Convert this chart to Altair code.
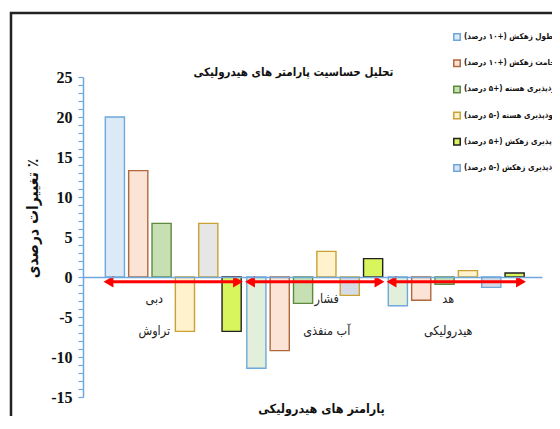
import altair as alt
import pandas as pd

# ---------------- data ----------------
categories = [["دبی", "تراوش"], ["فشار", "آب منفذی"], ["هد", "هیدرولیکی"]]
label_shift = [-19, 12, -8]  # horizontal shift of each category label (px)
series = [
    "طول زهکش (+۱۰ درصد)",
    "ضخامت زهکش (+۱۰ درصد)",
    "نفوذپذیری هسته (+۵ درصد)",
    "نفوذپذیری هسته (-۵ درصد)",
    "نفوذپذیری زهکش (+۵ درصد)",
    "نفوذپذیری زهکش (-۵ درصد)",
]
# values per series, one per category
v_s1 = [20.0, -11.4, -3.6]
v_s2 = [13.3, -9.2, -2.9]
v_s3 = [6.7, -3.3, -0.9]
v_s4 = [-6.8, 3.2, 0.8]
v_s5 = [-6.8, 2.3, 0.5]
v_s6 = [6.7, -2.3, -1.3]
all_values = [v_s1, v_s2, v_s3, v_s4, v_s5, v_s6]
bar_order = [0, 1, 2, 3, 5, 4]  # order of the bars inside each group
arrow_level = [-0.6, -0.6, -0.6]

fill_colors = ["#dce9f7", "#fbe3d5", "#c6e0b4", "#fff2cc", "#d8f55e", "#dae3f3"]
stroke_colors = ["#6fa8dc", "#b0683f", "#5f8a3d", "#c9a233", "#222222", "#6fa8dc"]

title_text = "تحلیل حساسیت پارامتر های هیدرولیکی"
x_title = "پارامتر های هیدرولیکی"
y_title = "\u200f٪ تغییرات درصدی"
y_ticks = list(range(-15, 26))

group_keys = ["|".join(c) for c in categories]

rows = []
for gi, g in enumerate(group_keys):
    for si, s in enumerate(series):
        rows.append({"group": g, "series": s, "si": si, "gi": gi, "value": all_values[si][gi]})
df = pd.DataFrame(rows)
arrow_df = pd.DataFrame({"group": group_keys, "value": arrow_level})
frame_df = pd.DataFrame({"k": [0]})

FA = "'DejaVu Sans Condensed', 'DejaVu Sans'"
AX_BLUE = "#6fa8dc"

x_scale = alt.Scale(paddingInner=0, paddingOuter=0.122, align=0.565)
y_scale = alt.Scale(domain=[-15, 25], nice=False, zero=False)

legend = alt.Legend(
    title=None, orient="none", legendX=370, legendY=-44, padding=0,
    labelFont=FA, labelFontSize=8, labelFontWeight="bold", labelColor="#111",
    labelLimit=500, labelExpr="'\u200f' + datum.label + '\u200f'",
    symbolType="square", symbolSize=42, symbolStrokeWidth=1.5, rowPadding=12.2,
    labelOffset=3,
)

label_offset_cond = [
    {"test": f"datum.value == '{g}'", "value": label_shift[i]} for i, g in enumerate(group_keys)
]

x_axis = alt.Axis(
    offset=-120, domainColor=AX_BLUE, domainWidth=1.5, ticks=False, zindex=1,
    labelExpr="split(datum.label, '|')", labelAngle=0,
    labelFont=FA, labelFontSize=12.5, labelColor="#222", labelLineHeight=32,
    labelPadding=15,
    labelOffset={"condition": label_offset_cond, "value": 0},
    title=x_title, titleFont=FA, titleFontSize=12.5, titleFontWeight="bold",
    titleColor="#111", titleX=238, titleY=131, titleBaseline="middle", titleAlign="center",
)
y_axis = alt.Axis(
    values=y_ticks, labelExpr="datum.value % 5 == 0 ? '' + datum.value : ''",
    labelFont="Liberation Serif", labelFontWeight="bold", labelFontSize=16,
    labelColor="#111", labelOverlap=False, labelFlush=False, labelPadding=6,
    ticks=True, tickSize=5, tickColor=AX_BLUE, tickWidth=1.2,
    domainColor=AX_BLUE, domainWidth=1.5, grid=False,
    title=y_title, titleFont=FA, titleFontSize=15.5, titleFontWeight="bold", titleColor="#111",
    titleX=-51, titleY=141, titleBaseline="middle", titleAlign="center", titleAngle=270,
)

bars = alt.Chart(df).mark_bar(strokeWidth=1.4).encode(
    x=alt.X("group:N", sort=group_keys, scale=x_scale, axis=x_axis),
    xOffset=alt.XOffset("series:N", sort=[series[i] for i in bar_order],
                        scale=alt.Scale(paddingInner=0.18, paddingOuter=0.12)),
    y=alt.Y("value:Q", scale=y_scale, axis=y_axis),
    fill={
        "field": "series", "type": "nominal",
        "scale": {"domain": series, "range": fill_colors},
        "legend": legend.to_dict(),
        "condition": [
            {"test": "datum.si == 0 && datum.gi > 0", "value": "#e2efda"},
            {"test": "datum.si == 5 && datum.gi == 0", "value": "#e7e6e6"},
            {"test": "datum.si == 5 && datum.gi > 0", "value": "#d6dce5"},
        ],
    },
    stroke={
        "field": "series", "type": "nominal",
        "scale": {"domain": series, "range": stroke_colors},
        "legend": legend.to_dict(),
        "condition": [
            {"test": "datum.si == 5 && datum.gi < 2", "value": "#c9a233"},
        ],
    },
)

arrow_line = alt.Chart(arrow_df).mark_rule(color="#ff0000", strokeWidth=3, xOffset=8, x2Offset=-8).encode(
    x=alt.X("group:N", sort=group_keys, scale=x_scale, bandPosition=0, axis=x_axis),
    x2=alt.X2("group:N", bandPosition=1),
    y=alt.Y("value:Q", scale=y_scale, axis=y_axis),
)
head_l = alt.Chart(arrow_df).mark_point(shape="triangle-left", filled=True, color="#ff0000",
                                        opacity=1, size=130, xOffset=6).encode(
    x=alt.X("group:N", sort=group_keys, scale=x_scale, bandPosition=0, axis=x_axis),
    y=alt.Y("value:Q", scale=y_scale, axis=y_axis),
)
head_r = alt.Chart(arrow_df).mark_point(shape="triangle-right", filled=True, color="#ff0000",
                                        opacity=1, size=130, xOffset=-6).encode(
    x=alt.X("group:N", sort=group_keys, scale=x_scale, bandPosition=1, axis=x_axis),
    y=alt.Y("value:Q", scale=y_scale, axis=y_axis),
)

frame_left = alt.Chart(frame_df).mark_rule(stroke="#222", strokeWidth=2.5).encode(
    x=alt.value(-72), y=alt.value(-65), y2=alt.value(700),
)
frame_top = alt.Chart(frame_df).mark_rule(stroke="#222", strokeWidth=2.5).encode(
    x=alt.value(-73), x2=alt.value(700), y=alt.value(-64),
)

chart = alt.layer(frame_left, frame_top, bars, arrow_line, head_l, head_r).properties(
    width=459, height=320, background="white",
    autosize=alt.AutoSizeParams(type="none"),
    padding={"left": 75, "top": 69, "right": 10, "bottom": 19},
    title=alt.Title(title_text, font=FA, fontSize=11.5, fontWeight="bold", color="#111",
                    anchor="middle", frame="group", offset=0, dx=-19, dy=74, baseline="middle"),
).configure_view(strokeWidth=0)

chart.save("out.html", embed_options={"renderer": "svg", "actions": False})
